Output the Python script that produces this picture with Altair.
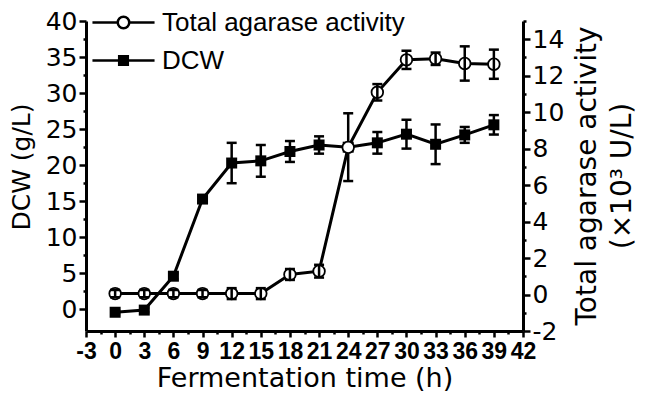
import altair as alt
import pandas as pd

# ---- data ----
time_h = [0, 3, 6, 9, 12, 15, 18, 21, 24, 27, 30, 33, 36, 39]
dcw = [-0.4, -0.1, 4.6, 15.3, 20.3, 20.6, 21.9, 22.8, 22.5, 23.1, 24.3, 22.9, 24.2, 25.6]
dcw_err = [0.3, 0.3, 0.4, 0.5, 2.8, 2.2, 1.45, 1.2, 4.7, 1.5, 2.0, 2.75, 1.1, 1.35]
agarase = [0.05, 0.05, 0.05, 0.05, 0.05, 0.05, 1.10, 1.28, 8.07, 11.09, 12.87, 12.93, 12.67, 12.63]
agarase_err = [0.2, 0.2, 0.2, 0.2, 0.3, 0.3, 0.3, 0.35, 0.0, 0.45, 0.5, 0.34, 0.94, 0.8]

x_ticks = [-3, -1.5, 0, 1.5, 3, 4.5, 6, 7.5, 9, 10.5, 12, 13.5, 15, 16.5, 18, 19.5, 21, 22.5,
           24, 25.5, 27, 28.5, 30, 31.5, 33, 34.5, 36, 37.5, 39, 40.5, 42]
dcw_ticks = [0, 2.5, 5, 7.5, 10, 12.5, 15, 17.5, 20, 22.5, 25, 27.5, 30, 32.5, 35, 37.5, 40]
ag_ticks = [-2, -1, 0, 1, 2, 3, 4, 5, 6, 7, 8, 9, 10, 11, 12, 13, 14, 15]
series_names = ["Total agarase activity", "DCW"]

df = pd.DataFrame({
    "time": time_h,
    "dcw": dcw,
    "dcw_err": dcw_err,
    "ag": agarase,
    "ag_err": agarase_err,
})
df["dcw_lo"] = df["dcw"] - df["dcw_err"]
df["dcw_hi"] = df["dcw"] + df["dcw_err"]
df["ag_lo"] = df["ag"] - df["ag_err"]
df["ag_hi"] = df["ag"] + df["ag_err"]

SANS = "DejaVu Sans"
ARIAL = "Liberation Sans"

x_axis = alt.Axis(
    title="Fermentation time (h)", values=x_ticks,
    labelExpr="datum.value % 3 === 0 ? datum.value + '' : ''",
    tickSize=6,
    tickDash={"condition": {"test": "datum.value % 3 !== 0", "value": [3, 30]}, "value": []},
    labelFont=ARIAL, labelFontWeight="bold", labelFontSize=23,
    labelBaseline="alphabetic", labelPadding=21, labelFlush=False, labelOverlap=False,
    titleFont=SANS, titleFontSize=27, titleBaseline="alphabetic", titleY=55.7,
)
left_axis = alt.Axis(
    title="DCW (g/L)", orient="left", values=dcw_ticks,
    labelExpr="datum.value % 5 === 0 ? datum.value + '' : ''",
    tickSize=7,
    tickDash={"condition": {"test": "datum.value % 5 !== 0", "value": [3, 30]}, "value": []},
    labelFont=SANS, labelFontSize=25, labelPadding=2,
    titleFont=SANS, titleFontSize=25, titleAngle=270, titleX=-57, titleY=145.5,
    titleBaseline="alphabetic", titleAlign="center",
)
right_axis = alt.Axis(
    title=["Total agarase activity", "(×10³ U/L)"], orient="right", values=ag_ticks,
    labelExpr="datum.value % 2 === 0 ? datum.value + '' : ''",
    tickSize=7,
    tickDash={"condition": {"test": "datum.value % 2 !== 0", "value": [3, 30]}, "value": []},
    labelFont=SANS, labelFontSize=25, labelPadding=2,
    titleFont=SANS, titleFontSize=28, titleAngle=270, titleX=72, titleY=154.5,
    titleBaseline="alphabetic", titleAlign="center", titleLineHeight=35,
)

x_scale = alt.Scale(domain=[-3, 42], nice=False, zero=False)
left_scale = alt.Scale(domain=[-3, 40], nice=False, zero=False)
right_scale = alt.Scale(domain=[-2, 15], nice=False, zero=False)

X = alt.X("time:Q", scale=x_scale, axis=x_axis)

def YL(f):
    return alt.Y(f"{f}:Q", scale=left_scale, axis=left_axis)

def YR(f):
    return alt.Y(f"{f}:Q", scale=right_scale, axis=right_axis)

base = alt.Chart(df)

dcw_line = base.mark_line(color="black", strokeWidth=3).encode(x=X, y=YL("dcw"))
dcw_bar = base.mark_rule(color="black", strokeWidth=2.5).encode(x=X, y=YL("dcw_lo"), y2="dcw_hi:Q")
dcw_cap_lo = base.mark_tick(orient="horizontal", size=10, thickness=2.5, color="black", opacity=1).encode(x=X, y=YL("dcw_lo"))
dcw_cap_hi = base.mark_tick(orient="horizontal", size=10, thickness=2.5, color="black", opacity=1).encode(x=X, y=YL("dcw_hi"))
dcw_pts = base.mark_square(size=121, color="black", opacity=1).encode(x=X, y=YL("dcw"))
dcw_layer = alt.layer(dcw_line, dcw_bar, dcw_cap_lo, dcw_cap_hi, dcw_pts)

ag_base = base.transform_filter("datum.ag_err > 0")
ag_line = base.mark_line(color="black", strokeWidth=3).encode(x=X, y=YR("ag"))
ag_pts = base.mark_circle(size=135, fill="white", stroke="black", strokeWidth=1.8, opacity=1).encode(x=X, y=YR("ag"))
ag_bar = ag_base.mark_rule(color="black", strokeWidth=2.5).encode(x=X, y=YR("ag_lo"), y2="ag_hi:Q")
ag_cap_lo = ag_base.mark_tick(orient="horizontal", size=10, thickness=2.5, color="black", opacity=1).encode(x=X, y=YR("ag_lo"))
ag_cap_hi = ag_base.mark_tick(orient="horizontal", size=10, thickness=2.5, color="black", opacity=1).encode(x=X, y=YR("ag_hi"))
ag_layer = alt.layer(ag_line, ag_pts, ag_bar, ag_cap_lo, ag_cap_hi)

# legend (drawn by Vega-Lite's legend with line+marker symbols)
circle_path = ("M-2.07,0H-0.383M0.383,0H2.07"
               "M-0.383,0A0.383,0.383,0,1,1,0.383,0A0.383,0.383,0,1,1,-0.383,0Z")
square_path = "M-2.07,0H-0.287M0.287,0H2.07M-0.287,-0.287H0.287V0.287H-0.287Z"
leg = alt.Legend(
    title=None, orient="none", legendX=21, legendY=-15, direction="vertical",
    symbolSize=900, symbolStrokeWidth=2.5, labelFont=ARIAL, labelFontSize=26,
    labelColor="black", labelOffset=22, rowPadding=8, padding=0, labelLimit=0,
)
legend_df = pd.DataFrame({"series": series_names})
legend_layer = alt.Chart(legend_df).transform_filter("false").mark_point(
    opacity=1, strokeWidth=2.5
).encode(
    shape=alt.Shape("series:N", scale=alt.Scale(domain=series_names, range=[circle_path, square_path]), legend=leg),
    fill=alt.Fill("series:N", scale=alt.Scale(domain=series_names, range=["white", "black"]), legend=leg),
    stroke=alt.Stroke("series:N", scale=alt.Scale(domain=series_names, range=["black", "black"]), legend=leg),
)

chart = alt.layer(dcw_layer, ag_layer, legend_layer).resolve_scale(
    y="independent"
).properties(
    width=437, height=310,
    autosize=alt.AutoSizeParams(type="none"),
    padding={"left": 78, "top": 13, "right": 116, "bottom": 72},
).configure_view(stroke=None).configure_axis(
    domainColor="black", domainWidth=3, tickColor="black", tickWidth=2.5,
    labelColor="black", titleColor="black", grid=False, titleFontWeight="normal",
)

chart.save("out.html", embed_options={"renderer": "svg", "actions": False})
